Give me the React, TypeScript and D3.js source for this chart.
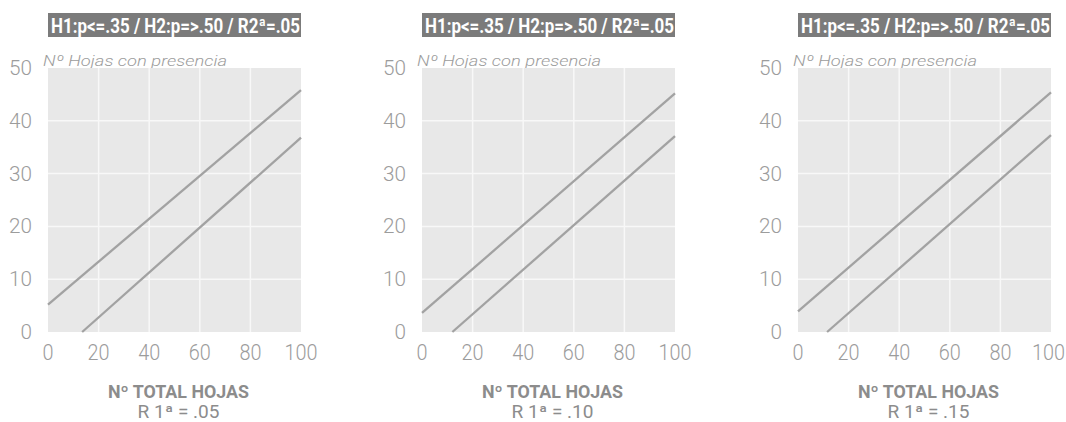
import React, { useEffect, useRef } from 'react';
import * as d3 from 'd3';

// chart values
const titleText = 'H1:p<=.35 / H2:p=>.50 / R2ª=.05';
const yAxisLabel = 'Nº Hojas con presencia';
const xAxisLabel = 'Nº TOTAL HOJAS';
const panelNotes = ['R 1ª = .05', 'R 1ª = .10', 'R 1ª = .15'];
const xTicks = [0, 20, 40, 60, 80, 100];
const yTicks = [0, 10, 20, 30, 40, 50];
// upper regression line (H1), endpoints [x, y]
const upperLines = [
  [[0, 5.2], [100, 45.8]],
  [[0, 3.6], [100, 45.2]],
  [[0, 3.9], [100, 45.4]],
];
// lower regression line (H2), endpoints [x, y]
const lowerLines = [
  [[13.5, 0], [100, 36.8]],
  [[12, 0], [100, 37.1]],
  [[11.5, 0], [100, 37.3]],
];

const W = 1066, H = 422;
const panelLeft = [48, 422, 798];
const plotW = 253;
const plotTop = 68, plotBottom = 332;
const grey = '#9c9c9c';

export default function App() {
  const ref = useRef<SVGSVGElement>(null);

  useEffect(() => {
    const svg = d3.select(ref.current);
    svg.selectAll('*').remove();

    const y = d3.scaleLinear().domain([0, 50]).range([plotBottom, plotTop]);

    panelNotes.forEach((note, i) => {
      const left = panelLeft[i];
      const x = d3.scaleLinear().domain([0, 100]).range([left, left + plotW]);
      const g = svg.append('g');

      // title bar
      g.append('rect')
        .attr('x', left).attr('y', 13).attr('width', plotW).attr('height', 24)
        .attr('fill', '#7b7b7b');
      g.append('text')
        .attr('x', left + 3).attr('y', 32.5)
        .attr('textLength', plotW - 4)
        .attr('lengthAdjust', 'spacingAndGlyphs')
        .attr('font-family', 'Roboto, sans-serif')
        .attr('font-weight', 'bold')
        .attr('font-size', 20)
        .attr('fill', '#fff')
        .text(titleText);

      g.append('text')
        .attr('x', left - 5).attr('y', 66)
        .attr('textLength', 184)
        .attr('lengthAdjust', 'spacingAndGlyphs')
        .attr('font-family', 'Roboto, sans-serif')
        .attr('font-style', 'italic')
        .attr('font-weight', 300)
        .attr('font-size', 15.5)
        .attr('fill', grey)
        .text(yAxisLabel);

      // plot background
      g.append('rect')
        .attr('x', left).attr('y', plotTop)
        .attr('width', plotW).attr('height', plotBottom - plotTop)
        .attr('fill', '#e8e8e8');

      g.selectAll('.vg').data(xTicks.slice(1, -1)).enter().append('line')
        .attr('x1', d => x(d)).attr('x2', d => x(d))
        .attr('y1', plotTop).attr('y2', plotBottom)
        .attr('stroke', '#f8f8f8').attr('stroke-width', 1.5);
      g.selectAll('.hg').data(yTicks.slice(1, -1)).enter().append('line')
        .attr('x1', left).attr('x2', left + plotW)
        .attr('y1', d => y(d)).attr('y2', d => y(d))
        .attr('stroke', '#f8f8f8').attr('stroke-width', 1.5);

      const line = d3.line<number[]>().x(d => x(d[0])).y(d => y(d[1]));
      [upperLines[i], lowerLines[i]].forEach(pts => {
        g.append('path')
          .attr('d', line(pts))
          .attr('fill', 'none')
          .attr('stroke', '#a2a2a2')
          .attr('stroke-width', 2.3);
      });

      // tick labels
      g.selectAll('.yt').data(yTicks).enter().append('text')
        .attr('x', left - 16).attr('y', d => y(d) + 7)
        .attr('text-anchor', 'end')
        .attr('textLength', d => String(d).length * 11.5)
        .attr('lengthAdjust', 'spacingAndGlyphs')
        .attr('font-family', 'Roboto, sans-serif')
        .attr('font-weight', 300)
        .attr('font-size', 20)
        .attr('fill', grey)
        .text(d => d);
      g.selectAll('.xt').data(xTicks).enter().append('text')
        .attr('x', d => Math.min(x(d) - String(d).length * 5.5, W - 1 - String(d).length * 11))
        .attr('y', 360)
        .attr('textLength', d => String(d).length * 11)
        .attr('lengthAdjust', 'spacingAndGlyphs')
        .attr('font-family', 'Roboto, sans-serif')
        .attr('font-weight', 300)
        .attr('font-size', 22)
        .attr('fill', grey)
        .text(d => d);

      // axis title
      const cx = left + plotW / 2 + 4;
      g.append('text')
        .attr('x', cx - 70.5).attr('y', 398)
        .attr('textLength', 141)
        .attr('lengthAdjust', 'spacingAndGlyphs')
        .attr('font-family', 'Roboto, sans-serif')
        .attr('font-weight', 'bold')
        .attr('font-size', 17.5)
        .attr('fill', '#8c8c8c')
        .text(xAxisLabel);
      g.append('text')
        .attr('x', cx - 41).attr('y', 418)
        .attr('textLength', 82)
        .attr('lengthAdjust', 'spacingAndGlyphs')
        .attr('font-family', 'Roboto, sans-serif')
        .attr('font-size', 17.5)
        .attr('fill', '#8c8c8c')
        .text(note);
    });
  }, []);

  return (
    <div style={{ position: 'fixed', left: 0, top: 0 }}>
      <svg ref={ref} width={W} height={H} style={{ display: 'block', background: '#fff' }} />
    </div>
  );
}
